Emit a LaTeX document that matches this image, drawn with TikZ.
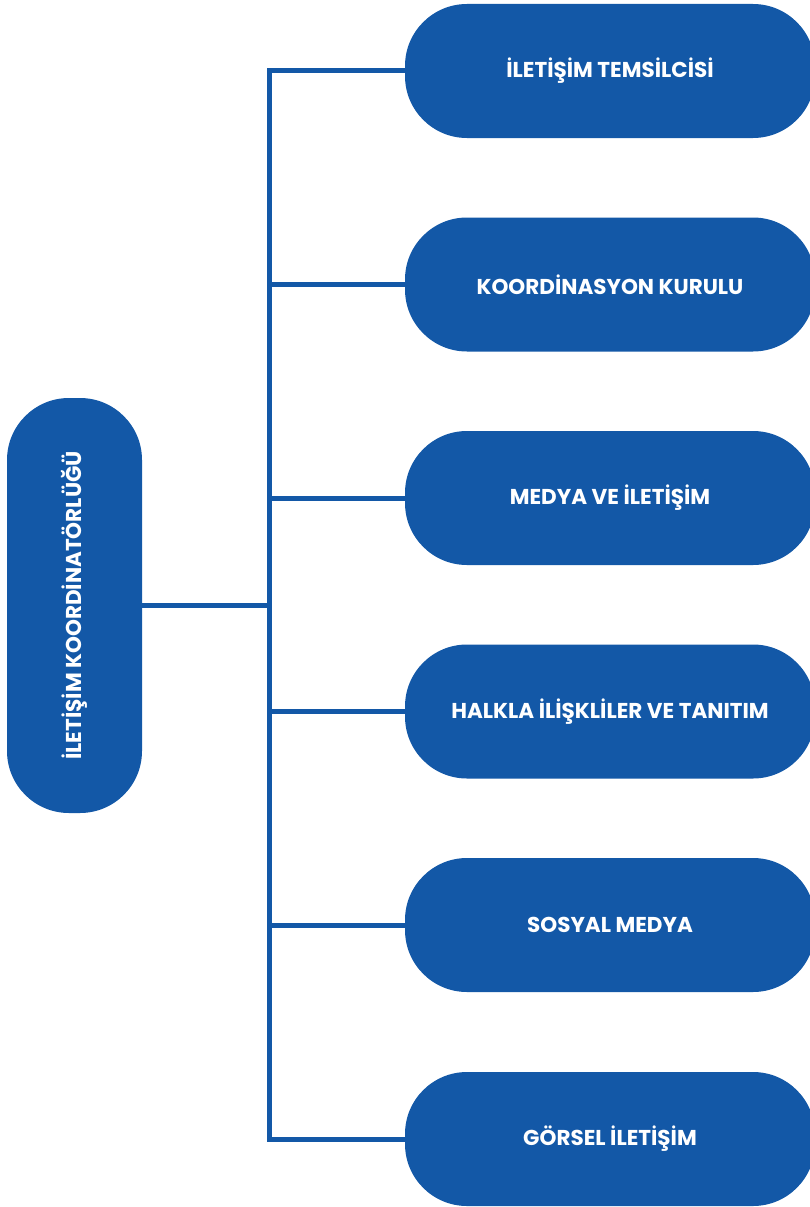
\documentclass[tikz,border=0pt]{standalone}
\usepackage{fontspec}
\setmainfont{Poppins}
\definecolor{boxblue}{HTML}{1358A7}
\begin{document}
\begin{tikzpicture}[x=1pt,y=-1pt,
  lbl/.style={text=white, font=\bfseries\fontsize{21.5}{24}\selectfont},
  box/.style={fill=boxblue, draw=none, rounded corners=62pt, lbl, inner sep=0pt},
  rbox/.style={box, minimum width=410pt, minimum height=134pt},
  link/.style={draw=boxblue, line width=5pt, line join=miter}]
\useasboundingbox (0,0) rectangle (810,1207);
\node[box, minimum width=135pt, minimum height=415pt] (root) at (74.5,605.5) {};
\node[rotate=90, lbl] (roottext) at (root.center) {İLETİŞİM KOORDİNATÖRLÜĞÜ};
\node[rbox] (b1) at (610,71) {İLETİŞİM TEMSİLCİSİ};
\node[rbox] (b2) at (610,284.5) {KOORDİNASYON KURULU};
\node[rbox] (b3) at (610,498) {MEDYA VE İLETİŞİM};
\node[rbox] (b4) at (610,711.5) {HALKLA İLİŞKLİLER VE TANITIM};
\node[rbox] (b5) at (610,925) {SOSYAL MEDYA};
\node[rbox] (b6) at (610,1139) {GÖRSEL İLETİŞİM};
\coordinate (trunk) at (269.5,605.5);
\draw[link] (b1.west) -- (b1.west -| trunk) -- (b6.west -| trunk) -- (b6.west);
\draw[link] (root.east) -- (trunk);
\foreach \b in {b2,b3,b4,b5} \draw[link] (\b.west -| trunk) -- (\b.west);
\end{tikzpicture}
\end{document}
